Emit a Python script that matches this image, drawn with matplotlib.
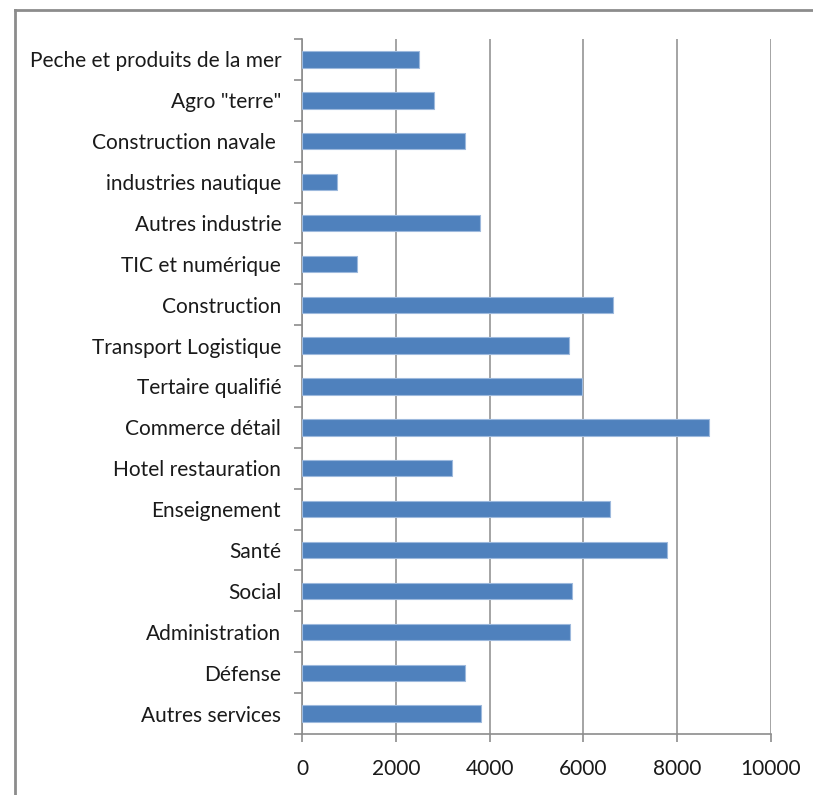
import matplotlib
matplotlib.use("Agg")
import matplotlib.pyplot as plt
from matplotlib.lines import Line2D
from matplotlib.ticker import FixedLocator, NullFormatter
import numpy as np

plt.rcParams['font.family'] = ['Lato', 'DejaVu Sans']

categories = [
    "Peche et produits de la mer",
    "Agro \"terre\"",
    "Construction navale ",
    "industries nautique",
    "Autres industrie",
    "TIC et numérique",
    "Construction",
    "Transport Logistique",
    "Tertaire qualifié",
    "Commerce détail",
    "Hotel restauration",
    "Enseignement",
    "Santé",
    "Social",
    "Administration",
    "Défense",
    "Autres services",
]
values = [2500, 2820, 3480, 750, 3800, 1180, 6630, 5690, 5980, 8680,
          3200, 6560, 7790, 5750, 5710, 3480, 3820]
x_ticks = [0, 2000, 4000, 6000, 8000, 10000]

W, H = 813, 795
fig = plt.figure(figsize=(W / 100, H / 100), dpi=100)
ax = fig.add_axes([302 / W, 1 - 734 / H, (771 - 302) / W, (734 - 39) / H])

n = len(categories)
ypos = np.arange(n)[::-1]
ax.barh(ypos, values, height=0.4, color='#4F81BD', edgecolor='#9DB9DD',
        linewidth=0.8, zorder=3)

ax.set_xlim(0, 10000)
ax.set_ylim(-0.5, n - 0.5)
ax.set_xticks(x_ticks)
ax.set_xticklabels([str(v) for v in x_ticks], fontsize=15, color='#1A1A1A')

ax.set_yticks(ypos)
ax.set_yticklabels(categories, fontsize=15, color='#1A1A1A')
ax.tick_params(axis='y', which='major', length=0, pad=15)
ax.yaxis.set_minor_locator(FixedLocator(np.arange(-0.5, n, 1.0)))
ax.yaxis.set_minor_formatter(NullFormatter())
ax.tick_params(axis='y', which='minor', length=6, width=1.2, color='#8C8C8C')
ax.tick_params(axis='x', length=6, width=1.2, color='#8C8C8C', pad=12)

ax.grid(axis='x', color='#8C8C8C', linewidth=1.1, zorder=0)
ax.set_axisbelow(True)
for side in ('top', 'right'):
    ax.spines[side].set_visible(False)
for side in ('left', 'bottom'):
    ax.spines[side].set_color('#8C8C8C')
    ax.spines[side].set_linewidth(1.2)

# outer frame around the chart area (top and left edges)
fig.add_artist(Line2D([15 / W, 1], [1 - 10 / H, 1 - 10 / H],
                      transform=fig.transFigure, color='#8C8C8C', linewidth=2))
fig.add_artist(Line2D([15 / W, 15 / W], [0, 1 - 10 / H],
                      transform=fig.transFigure, color='#8C8C8C', linewidth=2))

fig.savefig("out.png", dpi=100)
